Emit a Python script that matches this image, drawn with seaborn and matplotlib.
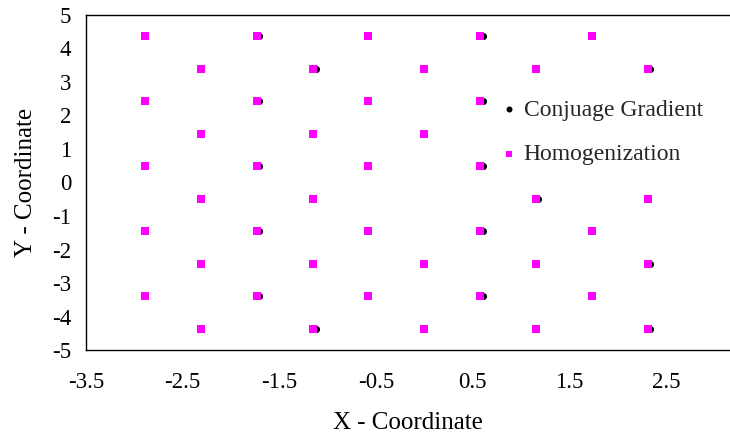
import matplotlib
matplotlib.use("Agg")
import matplotlib.pyplot as plt
import seaborn as sns
import pandas as pd

# Homogenization points (magenta squares)
hg_x = [-2.89, -1.73, -0.58, 0.58, 1.73,
        -2.31, -1.15, 0.00, 1.15, 2.31,
        -2.89, -1.73, -0.58, 0.58,
        -2.31, -1.15, 0.00,
        -2.89, -1.73, -0.58, 0.58,
        -2.31, -1.15, 1.15, 2.31,
        -2.89, -1.73, -0.58, 0.58, 1.73,
        -2.31, -1.15, 0.00, 1.15, 2.31,
        -2.89, -1.73, -0.58, 0.58, 1.73,
        -2.31, -1.15, 0.00, 1.15, 2.31]
hg_y = [4.36, 4.36, 4.36, 4.36, 4.36,
        3.39, 3.39, 3.39, 3.39, 3.39,
        2.43, 2.43, 2.43, 2.43,
        1.45, 1.45, 1.45,
        0.48, 0.48, 0.48, 0.48,
        -0.48, -0.48, -0.48, -0.48,
        -1.45, -1.45, -1.45, -1.45, -1.45,
        -2.43, -2.43, -2.43, -2.43, -2.43,
        -3.39, -3.39, -3.39, -3.39, -3.39,
        -4.36, -4.36, -4.36, -4.36, -4.36]

# Conjugate gradient points (black circles)
cg_x = [-1.705, 0.605, -1.125, 2.335, -1.705, 0.605, -1.705, 0.605,
        1.175, -1.705, 0.605, 2.335, -1.705, 0.605, -1.125, 2.335]
cg_y = [4.36, 4.36, 3.39, 3.39, 2.43, 2.43, 0.48, 0.48,
        -0.48, -1.45, -1.45, -2.43, -3.39, -3.39, -4.36, -4.36]

x_ticks = [-3.5, -2.5, -1.5, -0.5, 0.5, 1.5, 2.5]
y_ticks = [-5, -4, -3, -2, -1, 0, 1, 2, 3, 4, 5]

sns.set_theme(style="white")
plt.rcParams["font.family"] = ["Liberation Serif", "DejaVu Serif"]
plt.rcParams["axes.unicode_minus"] = False

fig = plt.figure(figsize=(7.3, 4.4), dpi=100)
ax = fig.add_axes([0.1175, 0.2045, 0.8825, 0.7615])

cg_df = pd.DataFrame({"x": cg_x, "y": cg_y})
hg_df = pd.DataFrame({"x": hg_x, "y": hg_y})

sns.scatterplot(data=cg_df, x="x", y="y", ax=ax, marker="o", color="black",
                s=26, linewidth=0, label="Conjuage Gradient", zorder=2)
sns.scatterplot(data=hg_df, x="x", y="y", ax=ax, marker="s", color="#FF00FF",
                s=34, linewidth=0, label="Homogenization", zorder=3)

ax.set_xlim(-3.5, 3.16)
ax.set_ylim(-5, 5)
ax.set_xticks(x_ticks)
ax.set_xticklabels([f"{v:g}" for v in x_ticks])
ax.set_yticks(y_ticks)
ax.set_yticklabels([f"{v:g}" for v in y_ticks])

for side in ["left", "bottom", "top"]:
    ax.spines[side].set_visible(True)
    ax.spines[side].set_color("black")
    ax.spines[side].set_linewidth(1.0)
ax.spines["right"].set_visible(False)

ax.tick_params(axis="both", direction="out", length=3.6, width=0.9,
               colors="black", labelsize=16.5)
ax.tick_params(axis="x", pad=12)
ax.tick_params(axis="y", pad=7)
ax.set_xlabel("X - Coordinate", fontsize=18, color="black", labelpad=14)
ax.set_ylabel("Y - Coordinate", fontsize=18, color="black", labelpad=11)

leg = ax.legend(loc="upper left", bbox_to_anchor=(0.643, 0.749), frameon=False,
                fontsize=17, handlelength=0.8, handletextpad=0.2,
                labelspacing=0.98, borderpad=0, borderaxespad=0,
                markerscale=0.85)

fig.savefig("out.png", dpi=100)
